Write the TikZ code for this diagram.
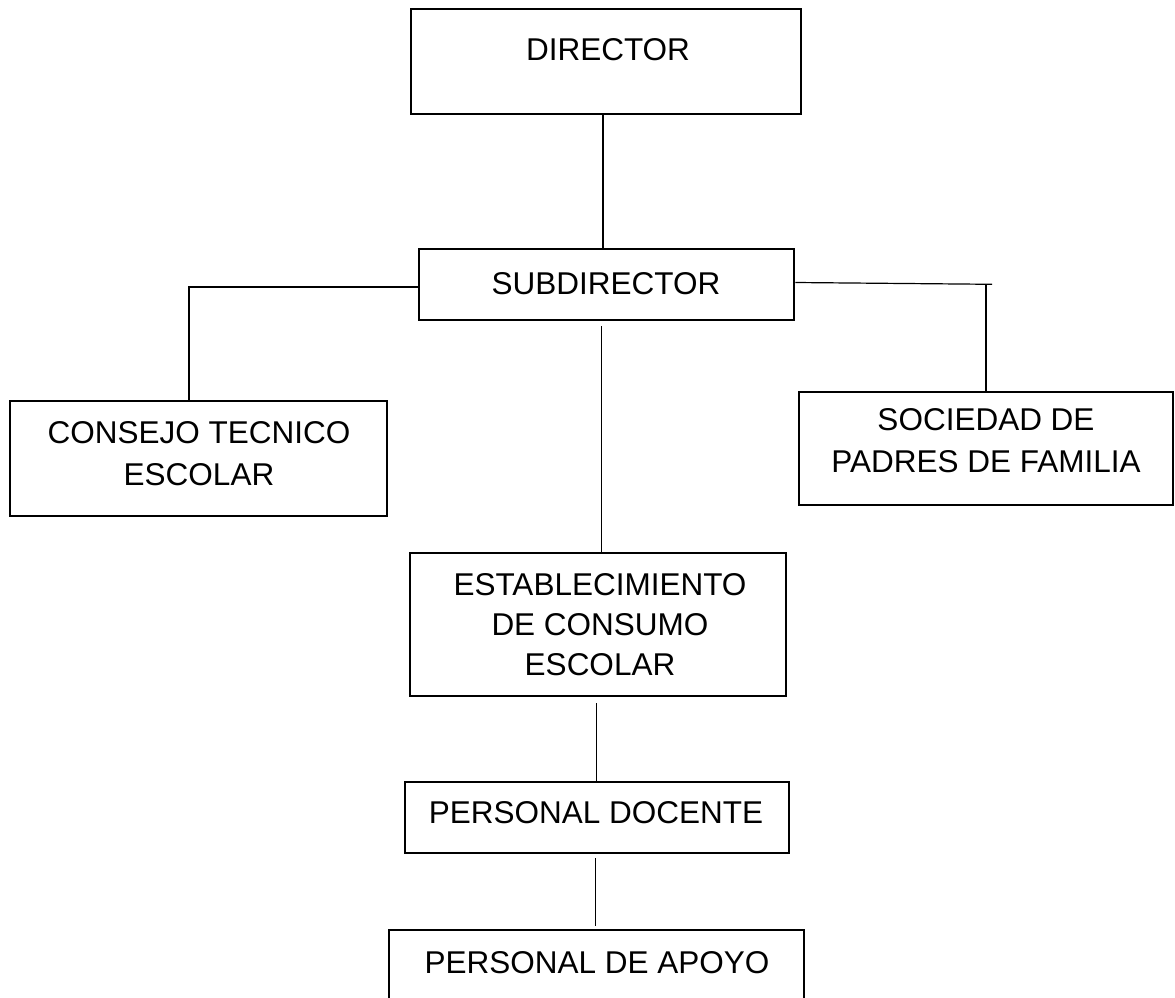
\documentclass[tikz,border=0pt]{standalone}
\usepackage{fontspec}
\setmainfont{Liberation Sans}
\begin{document}
\begin{tikzpicture}[x=1pt,y=-1pt,
  box/.style={draw, rectangle, line width=2.6pt, inner sep=0pt},
  txt/.style={align=center, inner sep=0pt, font=\fontsize{31.5}{42}\selectfont},
  conn/.style={line width=1.2pt}]
\useasboundingbox (0,0) rectangle (1175,998);
\clip (0,0) rectangle (1175,998);
% boxes
\node[box, minimum width=390pt, minimum height=105pt] (dir) at (606,61.5) {};
\node[box, minimum width=375pt, minimum height=71pt] (sub) at (606.5,284.5) {};
\node[box, minimum width=377pt, minimum height=115pt] (cons) at (198.5,458.5) {};
\node[box, minimum width=374pt, minimum height=113pt] (soc) at (986,448.5) {};
\node[box, minimum width=376pt, minimum height=143pt] (est) at (598,624.5) {};
\node[box, minimum width=384pt, minimum height=71pt] (doc) at (597,817.5) {};
\node[box, minimum width=415pt, minimum height=100pt] (apo) at (596.5,980) {};
% texts
\node[txt] (dirt) at (608,50) {DIRECTOR};
\node[txt] (subt) at (606,284) {SUBDIRECTOR};
\node[txt] (const) at (199,453.5) {CONSEJO TECNICO\\ESCOLAR};
\node[txt] (soct) at (986,440.5) {SOCIEDAD DE\\PADRES DE FAMILIA};
\node[txt, font=\fontsize{31.5}{40}\selectfont] (estt) at (600,624.5) {ESTABLECIMIENTO\\DE CONSUMO\\ESCOLAR};
\node[txt] (doct) at (596,812.5) {PERSONAL DOCENTE};
\node[txt] (apot) at (597,962.5) {PERSONAL DE APOYO};
% bend points
\coordinate (lb) at (189,287);
\coordinate (rend) at (992,284.3);
\coordinate (rb) at (986,284.3);
% connectors
\draw[conn] ([xshift=-3pt]dir.south) -- ([xshift=-3pt]dir.south |- sub.north);
\draw[conn] (sub.west |- lb) -- (lb) -- (lb |- cons.north);
\draw[conn] ([yshift=2pt]sub.east) -- (rend);
\draw[conn] (rb) -- (rb |- soc.north);
\draw[conn] ([xshift=-5pt,yshift=-5pt]sub.south) -- ([xshift=-5pt]sub.south |- est.north);
\draw[conn] ([xshift=-1.5pt,yshift=-6pt]est.south) -- ([xshift=-1.5pt]est.south |- doc.north);
\draw[conn] ([xshift=-1.5pt,yshift=-4pt]doc.south) -- ([xshift=-1.5pt,yshift=3pt]doc.south |- apo.north);
\end{tikzpicture}
\end{document}
